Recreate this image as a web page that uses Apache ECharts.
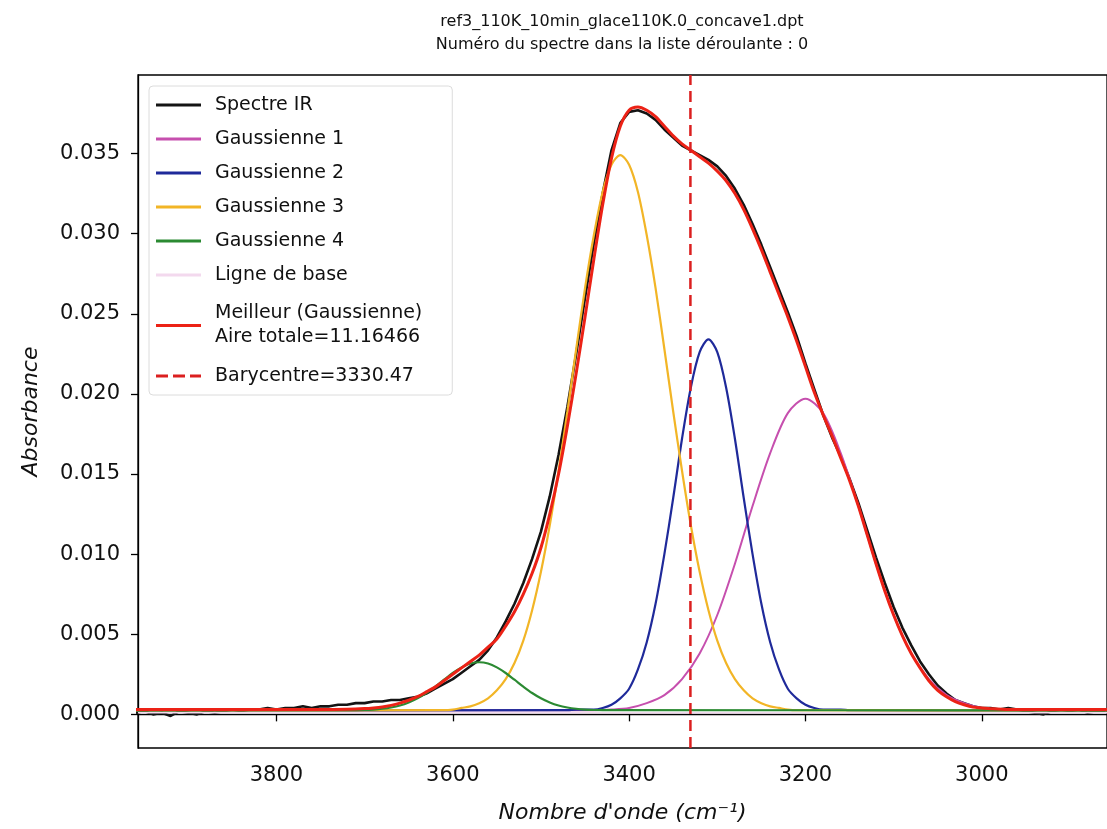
<!DOCTYPE html>
<html>
<head>
<meta charset="utf-8">
<script src="https://cdn.jsdelivr.net/npm/echarts@6/dist/echarts.min.js"></script>
<style>
  html, body { margin: 0; padding: 0; background: #fff; }
  #chart { width: 1107px; height: 829px; }
</style>
</head>
<body>
<div id="chart"></div>
<script type="text/javascript">
    // values
    let titleLines = ['ref3_110K_10min_glace110K.0_concave1.dpt', 'Numéro du spectre dans la liste déroulante : 0'];
    let xTicks = [3800, 3600, 3400, 3200, 3000];
    let yTicks = [0, 0.005, 0.010, 0.015, 0.020, 0.025, 0.030, 0.035];
    let xRange = [2858, 3957];
    let yRange = [-0.0021, 0.0399];
    let barycentre = 3330.47;
    let baseLevel = 0.0001;

    let spectreIR = [
        [3960,0.0001],[3950,0.0002],[3940,0.0000],[3930,0.0001],[3920,-0.0001],[3910,0.0002],[3900,0.0001],[3890,0.0000],[3880,0.0002],[3870,0.0001],
        [3860,0.0002],[3850,0.0003],[3840,0.0002],[3830,0.0003],[3820,0.0003],[3810,0.0004],[3800,0.0003],[3790,0.0004],[3780,0.0004],[3770,0.0005],
        [3760,0.0004],[3750,0.0005],[3740,0.0005],[3730,0.0006],[3720,0.0006],[3710,0.0007],[3700,0.0007],[3690,0.0008],[3680,0.0008],[3670,0.0009],
        [3660,0.0009],[3650,0.0010],[3640,0.0011],[3630,0.0013],[3620,0.0016],[3610,0.0019],[3600,0.0022],[3590,0.0026],[3580,0.0030],[3570,0.0034],
        [3560,0.0040],[3550,0.0048],[3540,0.0058],[3530,0.0069],[3520,0.0082],[3510,0.0097],[3500,0.0114],[3490,0.0136],[3480,0.0162],[3470,0.0192],
        [3460,0.0225],[3450,0.0260],[3440,0.0294],[3430,0.0325],[3420,0.0352],[3410,0.0369],[3400,0.0376],[3390,0.0377],[3380,0.0375],[3370,0.0371],
        [3360,0.0365],[3350,0.0360],[3340,0.0355],[3330,0.0352],[3320,0.0349],[3310,0.0346],[3300,0.0342],[3290,0.0336],[3280,0.0328],[3270,0.0318],
        [3260,0.0306],[3250,0.0293],[3240,0.0279],[3230,0.0265],[3220,0.0251],[3210,0.0236],[3200,0.0219],[3190,0.0203],[3180,0.0187],[3170,0.0173],
        [3160,0.0161],[3150,0.0147],[3140,0.0132],[3130,0.0115],[3120,0.0098],[3110,0.0082],[3100,0.0067],[3090,0.0054],[3080,0.0043],[3070,0.0033],
        [3060,0.0025],[3050,0.0018],[3040,0.0013],[3030,0.0009],[3020,0.0007],[3010,0.0005],[3000,0.0004],[2990,0.0004],[2980,0.0003],[2970,0.0004],
        [2960,0.0003],[2950,0.0002],[2940,0.0001],[2930,0.0000],[2920,0.0002],[2910,0.0003],[2900,0.0002],[2890,0.0003],[2880,0.0001],[2870,0.0002],[2860,0.0002]
    ];

    let gauss1 = [
        [3960,0.00025],[3460,0.00025],[3440,0.00026],[3420,0.0003],[3400,0.0004],[3380,0.0007],[3360,0.0012],[3340,0.0022],
        [3320,0.0038],[3300,0.0062],[3280,0.0094],[3260,0.0130],[3240,0.0163],[3220,0.0188],[3200,0.0197],[3180,0.0188],
        [3160,0.0163],[3140,0.0130],[3120,0.0094],[3100,0.0062],[3080,0.0038],[3060,0.0022],[3040,0.0012],[3020,0.0007],
        [3000,0.0004],[2980,0.0003],[2960,0.00026],[2858,0.00025]
    ];

    let gauss2 = [
        [3960,0.00025],[3470,0.00026],[3460,0.0003],[3450,0.0003],[3440,0.0003],[3430,0.0004],[3420,0.0006],[3410,0.0010],
        [3400,0.0016],[3390,0.0028],[3380,0.0045],[3370,0.0069],[3360,0.0100],[3350,0.0135],[3340,0.0172],[3330,0.0204],
        [3320,0.0226],[3310,0.0234],[3300,0.0226],[3290,0.0204],[3280,0.0172],[3270,0.0135],[3260,0.0100],[3250,0.0069],
        [3240,0.0045],[3230,0.0028],[3220,0.0016],[3210,0.0010],[3200,0.0006],[3190,0.0004],[3180,0.0003],[3170,0.0003],
        [3160,0.0003],[3150,0.00026],[2858,0.00025]
    ];

    let gauss3 = [
        [3960,0.00025],[3610,0.00026],[3600,0.0003],[3590,0.0004],[3580,0.0005],[3570,0.0007],[3560,0.0010],[3550,0.0015],
        [3540,0.0022],[3530,0.0032],[3520,0.0046],[3510,0.0065],[3500,0.0089],[3490,0.0118],[3480,0.0152],[3470,0.0189],
        [3460,0.0228],[3450,0.0266],[3440,0.0299],[3430,0.0326],[3420,0.0343],[3410,0.0349],[3400,0.0343],[3390,0.0326],
        [3380,0.0299],[3370,0.0266],[3360,0.0228],[3350,0.0189],[3340,0.0152],[3330,0.0118],[3320,0.0089],[3310,0.0065],
        [3300,0.0046],[3290,0.0032],[3280,0.0022],[3270,0.0015],[3260,0.0010],[3250,0.0007],[3240,0.0005],[3230,0.0004],
        [3220,0.0003],[3210,0.00026],[2858,0.00025]
    ];

    let gauss4 = [
        [3960,0.00025],[3710,0.00026],[3700,0.00027],[3690,0.0003],[3680,0.00035],[3670,0.00043],[3660,0.00055],[3650,0.00074],
        [3640,0.0010],[3630,0.00133],[3620,0.00173],[3610,0.00216],[3600,0.00258],[3590,0.00293],[3580,0.00317],[3570,0.00325],
        [3560,0.00317],[3550,0.00293],[3540,0.00258],[3530,0.00216],[3520,0.00173],[3510,0.00133],[3500,0.0010],[3490,0.00074],
        [3480,0.00055],[3470,0.00043],[3460,0.00035],[3450,0.0003],[3440,0.00027],[3430,0.00026],[2858,0.00025]
    ];

    let meilleur = [
        [3960,0.0003],[3850,0.0003],[3750,0.0003],[3720,0.00032],[3700,0.00036],[3690,0.0004],[3680,0.00046],[3670,0.00056],
        [3660,0.0007],[3650,0.00088],[3640,0.0011],[3630,0.0014],[3620,0.0017],[3610,0.0021],[3600,0.0025],[3590,0.0029],
        [3580,0.0033],[3570,0.0037],[3560,0.0042],[3550,0.0047],[3540,0.0055],[3530,0.0064],[3520,0.0075],[3510,0.0088],
        [3500,0.0104],[3490,0.0125],[3480,0.0150],[3470,0.0180],[3460,0.0213],[3450,0.0248],[3440,0.0284],[3430,0.0318],
        [3420,0.0347],[3410,0.0367],[3400,0.0377],[3390,0.0379],[3380,0.0377],[3370,0.0373],[3360,0.0367],[3350,0.0361],
        [3340,0.0356],[3330,0.0352],[3320,0.0348],[3310,0.0344],[3300,0.0339],[3290,0.0333],[3280,0.0325],[3270,0.0315],
        [3260,0.0303],[3250,0.0290],[3240,0.0276],[3230,0.0262],[3220,0.0248],[3210,0.0233],[3200,0.0217],[3190,0.0201],
        [3180,0.0187],[3170,0.0174],[3160,0.0160],[3150,0.0146],[3140,0.0130],[3130,0.0112],[3120,0.0094],[3110,0.0077],
        [3100,0.0062],[3090,0.0049],[3080,0.0038],[3070,0.0029],[3060,0.0021],[3050,0.0015],[3040,0.0011],[3030,0.0008],
        [3020,0.0006],[3010,0.00045],[3000,0.0004],[2990,0.00035],[2970,0.0003],[2858,0.0003]
    ];

    let seriesNames = ['Spectre IR', 'Gaussienne 1', 'Gaussienne 2', 'Gaussienne 3', 'Gaussienne 4',
        'Ligne de base', 'Meilleur (Gaussienne)\nAire totale=11.16466', 'Barycentre=' + barycentre];
    let seriesColors = ['#141414', '#c64fae', '#1f2a9a', '#f2b526', '#2b8a32', '#f3d9ee', '#ec2216', '#db1f1f'];

    let font = 'DejaVu Sans';
    let dashIcon = 'path://M0,0h12v3h-12z M17,0h12v3h-12z M34,0h11v3h-11z';

    let dom = document.getElementById('chart');
    let chart = echarts.init(dom, null, {renderer: 'canvas'});

    let lineSeries = function (i, data, width, smooth) {
        return {
            name: seriesNames[i],
            type: 'line',
            data: data,
            symbol: 'none',
            showSymbol: false,
            smooth: smooth,
            lineStyle: {color: seriesColors[i], width: width},
            itemStyle: {color: seriesColors[i]}
        };
    };

    let legendData = seriesNames.map(function (n, i) {
        let item = {name: n, icon: i === 7 ? dashIcon : 'rect'};
        if (i === 6) {
            // two-line label: matplotlib keeps the handle a bit lower than the text centre
            item.textStyle = {padding: [0, 0, 9, 9]};
        }
        return item;
    });

    let option = {
        animation: false,
        backgroundColor: '#fff',
        graphic: [{
            type: 'text',
            x: 622,
            y: 10,
            style: {
                text: titleLines.join('\n'),
                font: '16px "' + font + '"',
                lineHeight: 23,
                textAlign: 'center',
                fill: '#111'
            }
        }],
        legend: {
            orient: 'vertical',
            left: 149,
            top: 86,
            padding: [7, 30, 7, 7],
            itemGap: 10,
            itemWidth: 45,
            itemHeight: 3,
            backgroundColor: 'rgba(255,255,255,0.85)',
            borderColor: '#dcdcdc',
            borderWidth: 1,
            borderRadius: 4,
            selectedMode: false,
            data: legendData,
            textStyle: {fontFamily: font, fontSize: 19, color: '#111', lineHeight: 24, padding: [0, 0, 0, 9]}
        },
        grid: {
            left: 138,
            right: 0,
            top: 75,
            bottom: 81,
            show: true,
            borderColor: '#000',
            borderWidth: 1.3,
            outerBoundsMode: 'none'
        },
        xAxis: {
            type: 'value',
            inverse: true,
            min: xRange[0],
            max: xRange[1],
            name: 'Nombre d\'onde (cm⁻¹)',
            nameLocation: 'middle',
            nameGap: 54,
            nameTextStyle: {fontFamily: font, fontSize: 22, fontStyle: 'italic', color: '#111'},
            splitLine: {show: false},
            axisLine: {show: true, lineStyle: {color: '#000', width: 1.3}},
            axisTick: {show: true, inside: false, length: 7, customValues: xTicks, lineStyle: {color: '#000', width: 1.3}},
            axisLabel: {
                customValues: xTicks, margin: 17, fontFamily: font, fontSize: 21, color: '#111',
                formatter: function (v) { return String(v); }
            }
        },
        yAxis: {
            type: 'value',
            min: yRange[0],
            max: yRange[1],
            name: 'Absorbance',
            nameLocation: 'middle',
            nameGap: 96,
            nameTextStyle: {fontFamily: font, fontSize: 22, fontStyle: 'italic', color: '#111'},
            splitLine: {show: false},
            axisLine: {show: true, lineStyle: {color: '#000', width: 1.3}},
            axisTick: {show: true, inside: false, length: 7, customValues: yTicks, lineStyle: {color: '#000', width: 1.3}},
            axisLabel: {
                customValues: yTicks, margin: 18, fontFamily: font, fontSize: 21, color: '#111',
                formatter: function (v) { return v.toFixed(3); }
            }
        },
        series: [
            lineSeries(0, spectreIR, 2.6, false),
            lineSeries(1, gauss1, 2, 0.3),
            lineSeries(2, gauss2, 2.2, 0.3),
            lineSeries(3, gauss3, 2.2, 0.3),
            lineSeries(4, gauss4, 2.2, 0.3),
            lineSeries(5, [[xRange[1], baseLevel], [xRange[0], baseLevel]], 1.5, false),
            lineSeries(6, meilleur, 3, 0.3),
            {
                name: seriesNames[7],
                type: 'line',
                symbol: 'none',
                showSymbol: false,
                data: [[barycentre, yRange[0]], [barycentre, yRange[1]]],
                lineStyle: {color: seriesColors[7], width: 2.5, type: [11, 6]},
                itemStyle: {color: seriesColors[7]}
            }
        ]
    };

    chart.setOption(option);
</script>
</body>
</html>
